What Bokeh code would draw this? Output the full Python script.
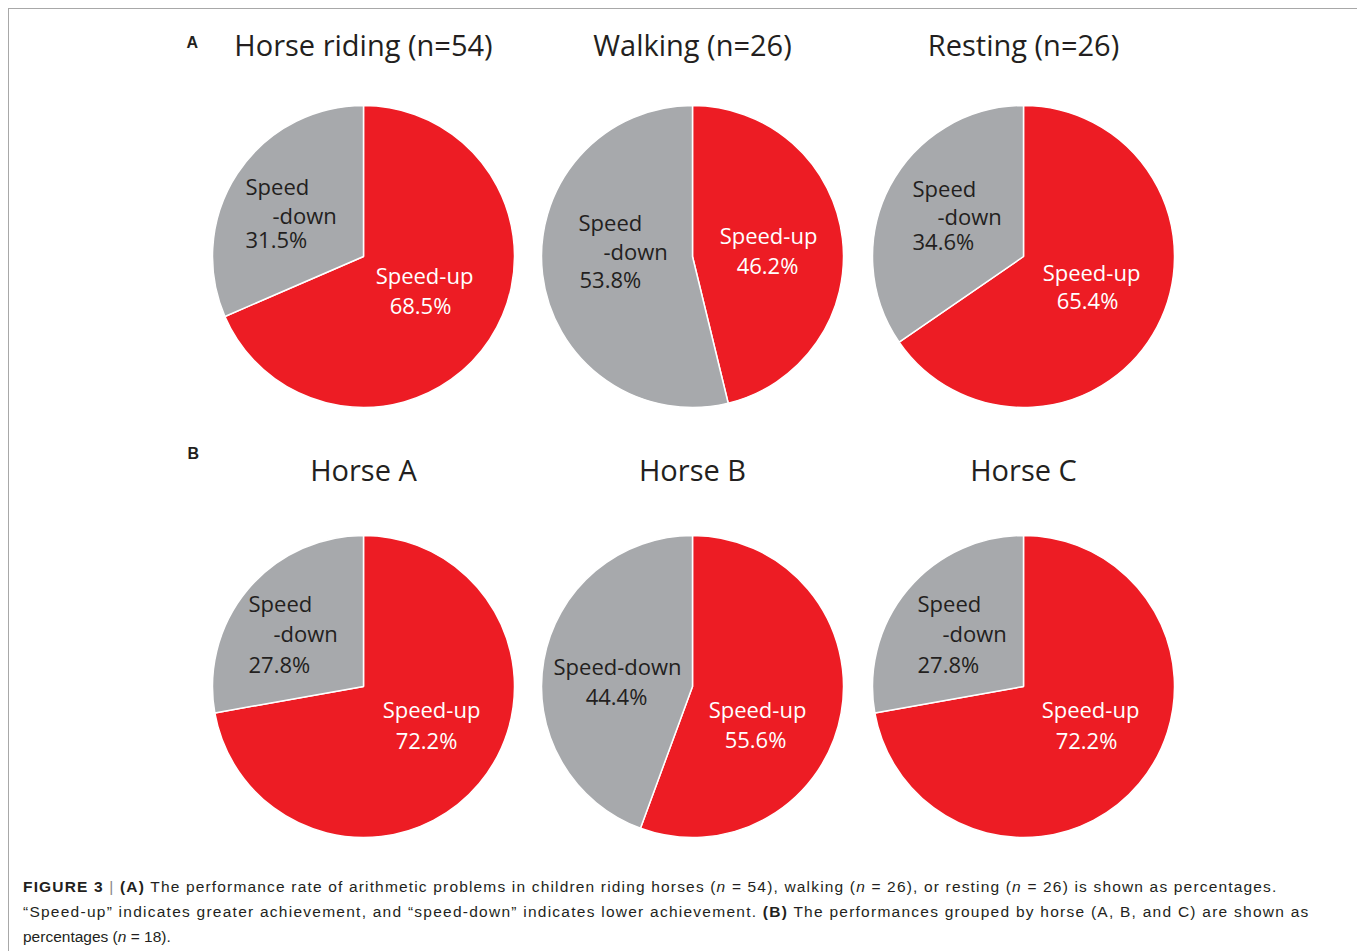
import math
from bokeh.plotting import figure
from bokeh.models import Range1d, Div, ColumnDataSource
from bokeh.layouts import column
from bokeh.core.properties import value
from bokeh.embed import file_html
from bokeh.resources import INLINE

# ---- data ----
titles_a = ["Horse riding (n=54)", "Walking (n=26)", "Resting (n=26)"]
speed_up_a = [68.5, 46.2, 65.4]
speed_down_a = [31.5, 53.8, 34.6]
titles_b = ["Horse A", "Horse B", "Horse C"]
speed_up_b = [72.2, 55.6, 72.2]
speed_down_b = [27.8, 44.4, 27.8]
panel_letters = ["A", "B"]

RED = "#ED1C24"
GRAY = "#A7A9AC"
INK = "#231F20"
FONT = "Open Sans"

W, H = 1344, 860
OX, OY = 9, 9  # page offset of figure origin

def X(px):
    return px - OX

def Y(py):
    return -(py - OY)

p = figure(width=W, height=H, x_range=Range1d(0, W), y_range=Range1d(-H, 0),
           output_backend="svg", toolbar_location=None, min_border=0)
p.axis.visible = False
p.grid.visible = False
p.outline_line_color = None
p.background_fill_color = "white"
p.border_fill_color = "white"

# layout: pie centres (page pixels)
centers_x = [363, 692, 1023]
row_y = [256, 686]
radius = 151

def draw_pie(cx, cy, up, down):
    total = up + down
    f_up = up / total
    top = math.pi / 2
    src = ColumnDataSource(dict(
        x=[X(cx), X(cx)], y=[Y(cy), Y(cy)],
        start=[top - 2 * math.pi * f_up, top - 2 * math.pi],
        end=[top, top - 2 * math.pi * f_up],
        color=[RED, GRAY]))
    p.wedge(x="x", y="y", radius=radius, radius_units="screen",
            start_angle="start", end_angle="end", direction="anticlock",
            fill_color="color", line_color="white", line_width=1.5, source=src)

for i in range(3):
    draw_pie(centers_x[i], row_y[0], speed_up_a[i], speed_down_a[i])
    draw_pie(centers_x[i], row_y[1], speed_up_b[i], speed_down_b[i])

# titles
p.text(x=[X(c) for c in centers_x], y=[Y(44)] * 3, text=titles_a,
       text_font=value(FONT), text_font_size="29px", text_align="center",
       text_baseline="alphabetic", text_color=INK)
p.text(x=[X(c) for c in centers_x], y=[Y(469)] * 3, text=titles_b,
       text_font=value(FONT), text_font_size="29px", text_align="center",
       text_baseline="alphabetic", text_color=INK)
# panel letters
p.text(x=[X(186), X(187)], y=[Y(42), Y(453)], text=panel_letters,
       text_font=value("Liberation Sans"), text_font_size="16px",
       text_font_style="bold", text_align="left", text_baseline="alphabetic",
       text_color=INK)

def pct(v):
    return f"{v:.1f}%"

# slice labels: (text, page x, page y, align, color)
labels = []
# Row A
down_pos_a = [((245, 185), (272, 214), (245, 238)),
              ((578, 221), (603, 250), (579, 278)),
              ((912, 187), (937, 215), (912, 240))]
up_pos_a = [((424, 274), (420, 304)),
            ((768, 234), (767, 264)),
            ((1091, 271), (1087, 299))]
for i in range(3):
    (a, b, c) = down_pos_a[i]
    labels += [("Speed", a[0], a[1], "left", INK),
               ("-down", b[0], b[1], "left", INK),
               (pct(speed_down_a[i]), c[0], c[1], "left", INK)]
    (u1, u2) = up_pos_a[i]
    labels += [("Speed-up", u1[0], u1[1], "center", "white"),
               (pct(speed_up_a[i]), u2[0], u2[1], "center", "white")]
# Row B
down_pos_b = {0: ((248, 602), (273, 632), (248, 663)),
              2: ((917, 602), (942, 632), (917, 663))}
up_pos_b = [((431, 708), (426, 739)),
            ((757, 708), (755, 738)),
            ((1090, 708), (1086, 739))]
for i in range(3):
    if i in down_pos_b:
        (a, b, c) = down_pos_b[i]
        labels += [("Speed", a[0], a[1], "left", INK),
                   ("-down", b[0], b[1], "left", INK),
                   (pct(speed_down_b[i]), c[0], c[1], "left", INK)]
    else:
        labels += [("Speed-down", 617, 665, "center", INK),
                   (pct(speed_down_b[i]), 616, 695, "center", INK)]
    (u1, u2) = up_pos_b[i]
    labels += [("Speed-up", u1[0], u1[1], "center", "white"),
               (pct(speed_up_b[i]), u2[0], u2[1], "center", "white")]

lsrc = ColumnDataSource(dict(
    text=[l[0] for l in labels], x=[X(l[1]) for l in labels],
    y=[Y(l[2]) for l in labels], align=[l[3] for l in labels],
    color=[l[4] for l in labels]))
p.text(x="x", y="y", text="text", text_align="align", text_color="color",
       text_font=value(FONT), text_font_size="22px",
       text_baseline="alphabetic", source=lsrc)

caption_html = (
    '<div style="padding:0 0 0 9px; font-family:\'Liberation Sans\', Arial, sans-serif; '
    'font-size:15.5px; line-height:25px; white-space:nowrap; color:#231F20;">'
    '<span style="letter-spacing:1.17px">'
    '<b>FIGURE 3</b> <span style="color:#888">|</span> <b>(A)</b> The performance rate of arithmetic problems in children riding horses '
    '(<i>n</i> = 54), walking (<i>n</i> = 26), or resting (<i>n</i> = 26) is shown as percentages.</span><br>'
    '<span style="letter-spacing:1.25px">'
    '\u201cSpeed-up\u201d indicates greater achievement, and \u201cspeed-down\u201d indicates lower achievement. '
    '<b>(B)</b> The performances grouped by horse (A, B, and C) are shown as</span><br>'
    'percentages (<i>n</i> = 18).</div>'
)
cap = Div(text=caption_html, width=W, height=72)

layout = column(p, cap, styles={"margin": "8px 0 0 8px",
                                "border-top": "1px solid #a8a8a8",
                                "border-left": "1px solid #a8a8a8",
                                "border-right": "2px solid #8c8c8c",
                                "background-color": "white"})

open("out.html", "w").write(file_html(layout, INLINE))
